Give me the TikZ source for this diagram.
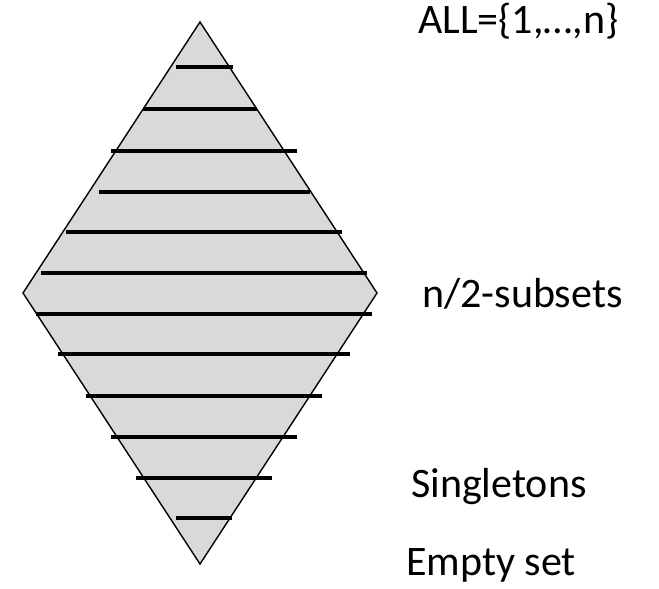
\documentclass[tikz,border=0pt]{standalone}
\usepackage{fontspec}
\setmainfont{Carlito}
\usetikzlibrary{positioning}
\tikzset{
  rim/.style={draw,line width=1.4pt,fill=black!15,line join=miter},
  lvl/.style={line width=3.3pt},
  lbl/.style={font=\fontsize{42}{46}\selectfont,inner sep=0pt,anchor=base west},
}
\begin{document}
\begin{tikzpicture}[x=1pt,y=-1pt]
 \useasboundingbox (0,0) rectangle (659,589);
 % the lattice of subsets
 \draw[rim] (200,22)--(377,293)--(200,564)--(23,293)--cycle;
 \foreach \y/\xa/\xb in {67/176/233,109/143/257,151/111/297,192/99/310,232/66/342,273/41/367,
   314/36/372,354/58/350,396/86/322,437/111/297,478/136/272,518/176/232}
  \draw[lvl] (\xa,\y)--(\xb,\y);
 % levels
 \node[lbl] (all) at (418,33) {ALL=\{1,…,n\}};
 \node[lbl] (half) at (422,307) {n/2-subsets};
 \node[lbl] (single) at (411,497) {Singletons};
 \node[lbl] (empty) at (406,575) {Empty set};
\end{tikzpicture}
\end{document}
